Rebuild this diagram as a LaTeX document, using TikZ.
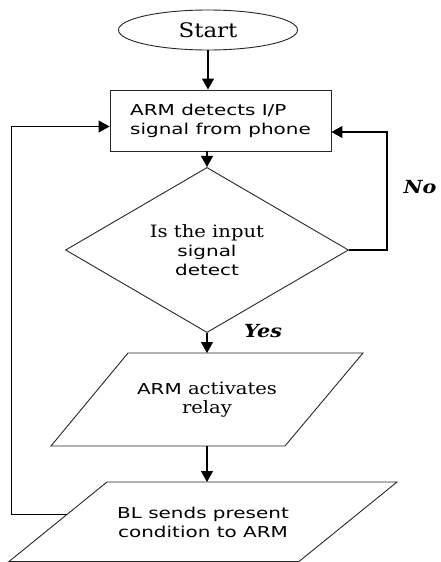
\documentclass[tikz,border=0pt]{standalone}
\usepackage{fontspec}
\usetikzlibrary{shapes.geometric,arrows.meta,calc}
\newfontfamily\sansA[FakeStretch=1.33]{DejaVu Sans}
\newfontfamily\serifA[FakeStretch=1.15]{DejaVu Serif}
\begin{document}
\begin{tikzpicture}[x=1pt,y=-1pt,
  shp/.style={draw=black!85, line width=0.9pt, inner sep=0pt},
  arr/.style={draw=black, line width=1.1pt, -{Triangle[length=11pt,width=12pt]}},
  sanstxt/.style={font=\sansA\fontsize{15}{19}\selectfont},
  lbl/.style={font=\serifA\bfseries\itshape\fontsize{18}{20}\selectfont},
  paratxt/.style={align=center, sanstxt, inner sep=0pt}
]
\useasboundingbox (0,0) rectangle (441,562);
\node[shp, ellipse, minimum width=179pt, minimum height=40pt,
      font=\serifA\fontsize{20}{24}\selectfont] (start) at (208,30) {Start};
\node[shp, rectangle, minimum width=221pt, minimum height=61pt, align=left, sanstxt]
      (det) at (220.5,120.5) {ARM detects I/P\\signal from phone};
\node[shp, diamond, minimum width=283pt, minimum height=135pt, align=center, sanstxt]
      (dec) at (207,250) {{\serifA\fontsize{17}{19}\selectfont Is the input}\\signal\\detect};
% parallelogram 1
\coordinate (a1) at (128,353); \coordinate (a2) at (363,353);
\coordinate (a3) at (285,446); \coordinate (a4) at (51,446);
\draw[shp] (a1) -- (a2) -- (a3) -- (a4) -- cycle;
\coordinate (actN) at (207,353); \coordinate (actS) at (207,446);
\node[paratxt] (act) at (207,400) {ARM {\serifA\fontsize{17}{19}\selectfont activates}\\{\serifA\fontsize{17}{19}\selectfont relay}};
% parallelogram 2
\coordinate (b1) at (107,482); \coordinate (b2) at (397,482);
\coordinate (b3) at (299,561.5); \coordinate (b4) at (9,561.5);
\draw[shp] (b1) -- (b2) -- (b3) -- (b4) -- cycle;
\coordinate (blsN) at (207,482);
\node[paratxt] (bls) at (203,522) {BL sends present\\condition to ARM};
\node[lbl] (yes) at (263,331) {Yes};
\node[lbl, anchor=east] (no) at (440,187) {No};
\draw[arr] (start.south) -- (start.south |- det.north);
\draw[arr] (dec.north |- det.south) -- (dec.north);
\draw[arr] (dec.south) -- (actN);
\draw[arr] (actS) -- (blsN);
\coordinate (inR) at ($(det.east)+(0,11.5)$);
\coordinate (inL) at ($(det.west)+(0,6)$);
\coordinate (outL) at ($(b1)!0.413!(b4)$);
\draw[arr] (dec.east) -- ++(38,0) |- (inR);
\draw[arr] (outL) -- ++(-54.6,0) |- (inL);
\end{tikzpicture}
\end{document}
